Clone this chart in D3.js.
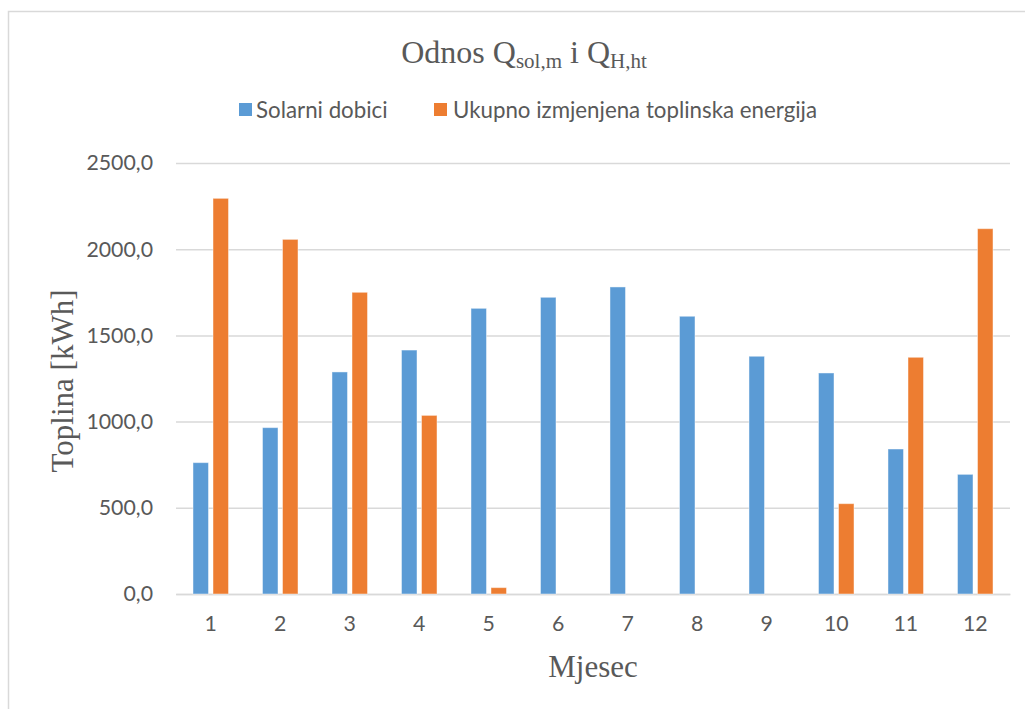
<!DOCTYPE html>
<html><head><meta charset="utf-8">
<script src="https://cdn.jsdelivr.net/npm/d3@7"></script>
<style>
html,body{margin:0;padding:0;background:#fff;}
svg{display:block;}
</style></head>
<body>
<svg id="chart" width="1025" height="709"></svg>
<script>
const months = ["1","2","3","4","5","6","7","8","9","10","11","12"];
const solarniDobici = [762, 965, 1288, 1415, 1657, 1721, 1781, 1611, 1379, 1282, 841, 694];
const ukupnoIzmjenjena = [2295, 2057, 1750, 1036, 37, 0, 0, 0, 0, 524, 1373, 2119];
const seriesNames = ["Solarni dobici", "Ukupno izmjenjena toplinska energija"];
const seriesColors = ["#5B9BD5", "#ED7D31"];
const yTicks = [0, 500, 1000, 1500, 2000, 2500];

const svg = d3.select("#chart");
const textColor = "#595959";
const sansFont = "Lato, 'Open Sans', sans-serif";
const serifFont = "'Liberation Serif', 'Times New Roman', serif";

// chart area border
svg.append("rect").attr("x", 8.5).attr("y", 11.5).attr("width", 1060).attr("height", 760)
  .attr("fill", "#fff").attr("stroke", "#d9d9d9").attr("stroke-width", 1.5);

const plot = {left: 176, right: 1010, top: 163, bottom: 594};

const x = d3.scaleBand().domain(months).range([plot.left, plot.right]).paddingInner(0).paddingOuter(0);
const y = d3.scaleLinear().domain([0, 2500]).range([plot.bottom, plot.top]);

const fmt = v => d3.format(".1f")(v).replace(".", ",");

// y axis with gridlines
const yAxis = svg.append("g").attr("transform", `translate(${plot.left},0)`)
  .call(d3.axisLeft(y).tickValues(yTicks).tickFormat(fmt).tickSize(-(plot.right - plot.left)).tickPadding(23));
yAxis.select(".domain").remove();
yAxis.selectAll(".tick line").attr("stroke", "#d9d9d9").attr("stroke-width", 1.5);
yAxis.selectAll(".tick text").attr("fill", textColor).attr("font-family", sansFont).attr("font-size", "21.3px");

// x axis
const xAxis = svg.append("g").attr("transform", `translate(0,${plot.bottom})`)
  .call(d3.axisBottom(x).tickSize(0).tickPadding(22));
xAxis.select(".domain").attr("stroke", "#d9d9d9").attr("stroke-width", 1.5);
xAxis.selectAll(".tick text").attr("fill", textColor).attr("font-family", sansFont).attr("font-size", "21.3px");

// bars
const bw = x.bandwidth();
const barW = bw * 0.223;
const gap = bw * 0.065;
const series = [solarniDobici, ukupnoIzmjenjena];
series.forEach((vals, si) => {
  svg.append("g").selectAll("rect").data(months).join("rect")
    .attr("x", (m) => x(m) + bw / 2 + (si === 0 ? -gap / 2 - barW : gap / 2))
    .attr("y", (m, i) => y(vals[i]))
    .attr("width", barW)
    .attr("height", (m, i) => y(0) - y(vals[i]))
    .attr("fill", seriesColors[si])
    .attr("stroke", "rgba(255,255,255,0.45)")
    .attr("stroke-width", 1);
});

// title
const title = svg.append("text").attr("x", 524).attr("y", 63).attr("text-anchor", "middle")
  .attr("font-family", serifFont).attr("font-size", "32px").attr("fill", textColor);
title.append("tspan").text("Odnos Q");
title.append("tspan").attr("font-size", "21px").attr("dy", 5).text("sol,m");
title.append("tspan").attr("dy", -5).text(" i Q");
title.append("tspan").attr("font-size", "21px").attr("dy", 5).text("H,ht");

// legend
const legendItems = [{x: 239, tx: 256}, {x: 434, tx: 453}];
legendItems.forEach((it, i) => {
  svg.append("rect").attr("x", it.x).attr("y", 103).attr("width", 13).attr("height", 13).attr("fill", seriesColors[i]);
  svg.append("text").attr("x", it.tx).attr("y", 118).attr("font-family", sansFont).attr("font-size", "22.3px")
    .attr("fill", textColor).text(seriesNames[i]);
});

// axis titles
svg.append("text").attr("transform", "translate(73,381) rotate(-90)").attr("text-anchor", "middle")
  .attr("font-family", serifFont).attr("font-size", "31px").attr("fill", textColor).text("Toplina [kWh]");
svg.append("text").attr("x", 593).attr("y", 677).attr("text-anchor", "middle")
  .attr("font-family", serifFont).attr("font-size", "31px").attr("fill", textColor).text("Mjesec");
</script>
</body></html>
